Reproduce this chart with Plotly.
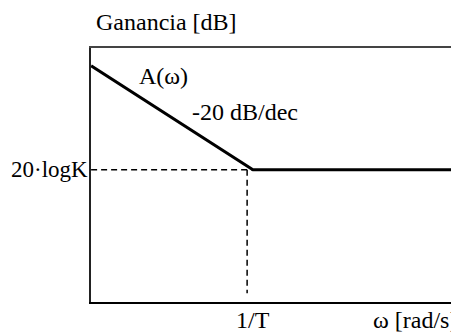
import plotly.graph_objects as go

# Asymptotic Bode magnitude
omega_asym = [0.132, 1.0, 13.2]      # rad/s (log axis)
gain_asym = [37.6, 20.0, 20.0]       # dB

omega_ref_h = [0.132, 1.0]           # dashed horizontal at 20·logK
gain_ref_h = [20.0, 20.0]
omega_ref_v = [0.93, 0.93]           # dashed vertical at 1/T
gain_ref_v = [20.0, -0.9]

x_range_log = [-0.88, 1.12]
y_range = [-2.4, 40.6]

FONT = "Liberation Serif, Times New Roman, serif"
FS = 24

fig = go.Figure()
fig.add_trace(go.Scatter(x=omega_ref_h, y=gain_ref_h, mode="lines",
                         line=dict(color="black", width=1.5, dash="6px,4px"),
                         hoverinfo="skip", showlegend=False))
fig.add_trace(go.Scatter(x=omega_ref_v, y=gain_ref_v, mode="lines",
                         line=dict(color="black", width=1.5, dash="6px,4px"),
                         hoverinfo="skip", showlegend=False))
fig.add_trace(go.Scatter(x=omega_asym, y=gain_asym, mode="lines",
                         line=dict(color="black", width=3),
                         showlegend=False))

# the page body adds an 8px offset; size the figure so the plot area lands
# at x 91..459, y 48..302 in the window
fig.update_layout(
    width=451, height=326,
    margin=dict(l=83, r=0, t=40, b=32),
    paper_bgcolor="white", plot_bgcolor="white",
    font=dict(family=FONT, size=FS, color="black"),
    xaxis=dict(type="log", range=x_range_log, showgrid=False, zeroline=False,
               showticklabels=False, ticks="", showline=True,
               linecolor="black", linewidth=2),
    xaxis2=dict(type="log", range=x_range_log, overlaying="x", side="top",
                showgrid=False, zeroline=False, showticklabels=False, ticks="",
                showline=True, linecolor="#444444", linewidth=2),
    yaxis=dict(range=y_range, showgrid=False, zeroline=False,
               showticklabels=False, ticks="", showline=True,
               linecolor="#222222", linewidth=1.5),
)
# invisible trace to activate top axis
fig.add_trace(go.Scatter(x=[1], y=[20], xaxis="x2", mode="markers",
                         marker=dict(opacity=0), hoverinfo="skip", showlegend=False))

def ann(text, x, y, xanchor, size=FS):
    fig.add_annotation(text=text, x=x, y=y, xref="paper", yref="paper",
                       xanchor=xanchor, yanchor="middle", showarrow=False,
                       font=dict(family=FONT, size=size, color="black"))

ann("Ganancia [dB]", 0.008, 1.102, "left")
ann("A(ω)", 0.125, 0.890, "left")
ann("-20 dB/dec", 0.269, 0.748, "left")
ann("20·logK", -0.003, 0.52, "right", size=23)
ann("1/T", 0.44, -0.071, "center")
ann("ω [rad/s]", 0.88, -0.071, "center")

fig.write_html("out.html")
